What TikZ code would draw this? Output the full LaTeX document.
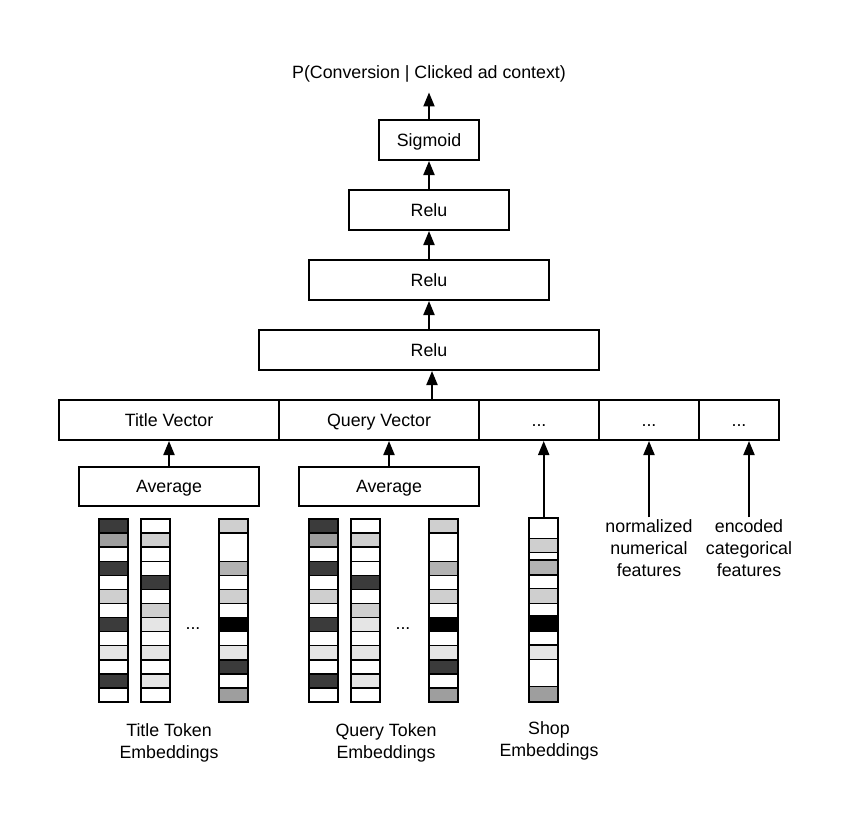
\documentclass[tikz,border=0pt]{standalone}
\usepackage{fontspec}
\setmainfont{Liberation Sans}
\usetikzlibrary{arrows.meta}
\colorlet{cD}{black!77}
\colorlet{cM}{black!38}
\colorlet{cG}{black!30}
\colorlet{cL}{black!19}
\colorlet{cV}{black!10}
\colorlet{cW}{white}
\colorlet{cK}{black}
\tikzset{
  lbl/.style={font=\fontsize{17.8}{22}\selectfont, align=center, inner sep=2pt},
  box/.style={draw, line width=2pt, lbl, inner sep=0pt, text height=12.8pt, text depth=0pt, minimum height=40pt},
  arr/.style={line width=2pt, -{Triangle[width=11pt,length=14pt]}},
  cellline/.style={line width=1.5pt},
}
\newcommand{\embcol}[3]{%
  \foreach \h/\c [evaluate=\h as \yb using \ya+\h, remember=\yb as \ya (initially #2)] in #3 {
    \fill[\c] (#1,\ya) rectangle (#1+29,\yb);
    \draw[cellline] (#1,\ya) -- (#1+29,\ya);
  }
  \draw[line width=2pt] (#1,#2) rectangle (#1+29,702);
}
\def\u{14.08}
\def\colA{\u/cD,\u/cM,\u/cW,\u/cD,\u/cW,\u/cL,\u/cW,\u/cD,\u/cW,\u/cV,\u/cW,\u/cD,\u/cW}
\def\colB{\u/cW,\u/cL,\u/cW,\u/cW,\u/cD,\u/cW,\u/cL,\u/cV,\u/cW,\u/cV,\u/cW,\u/cV,\u/cW}
\def\colC{\u/cL,28.16/cW,\u/cG,\u/cW,\u/cL,\u/cW,\u/cK,\u/cW,\u/cV,\u/cD,\u/cW,\u/cM}
\def\colS{20/cW,14.4/cL,7.3/cW,15/cG,13.3/cW,15/cL,12.7/cW,15.7/cK,13.3/cW,14.3/cV,27.4/cW,15/cM}
\begin{document}
\begin{tikzpicture}[x=1pt,y=-1pt]
\useasboundingbox (0,0) rectangle (858,820);
\fill[white] (0,0) rectangle (858,820);

% top stack
\node[lbl, anchor=base] (out) at (429,78.5) {P(Conversion | Clicked ad context)};
\node[box, minimum width=100pt] (sig) at (429,140) {Sigmoid};
\node[box, minimum width=160pt] (r1) at (429,210) {Relu};
\node[box, minimum width=240pt] (r2) at (429,280) {Relu};
\node[box, minimum width=340pt] (r3) at (429,350) {Relu};

% vector row
\node[box, minimum width=220pt] (tv) at (169,420) {Title Vector};
\node[box, minimum width=200pt] (qv) at (379,420) {Query Vector};
\node[box, minimum width=120pt] (d1) at (539,420) {...};
\node[box, minimum width=100pt] (d2) at (649,420) {...};
\node[box, minimum width=80pt] (d3) at (739,420) {...};

% averages
\node[box, minimum width=180pt, minimum height=39pt] (a1) at (169,486.5) {Average};
\node[box, minimum width=180pt, minimum height=39pt] (a2) at (389,486.5) {Average};

% embedding columns
\embcol{98.5}{519}{\colA}
\embcol{140.5}{519}{\colB}
\embcol{218.5}{519}{\colC}
\node[lbl, anchor=base] (dt) at (193,629.5) {...};
\embcol{308.5}{519}{\colA}
\embcol{350.5}{519}{\colB}
\embcol{428.5}{519}{\colC}
\node[lbl, anchor=base] (dq) at (403,629.5) {...};
\embcol{529}{518.3}{\colS}
\node[inner sep=0pt, minimum width=29pt, minimum height=184pt, anchor=north west] (shop) at (529,518.3) {};

% feature labels
\node[lbl] (num) at (649,548) {normalized\\numerical\\features};
\node[lbl] (cat) at (749,548) {encoded\\categorical\\features};

% bottom labels
\node[lbl] (tl) at (169,743) {Title Token\\Embeddings};
\node[lbl] (ql) at (386,743) {Query Token\\Embeddings};
\node[lbl] (sl) at (549,741) {Shop\\Embeddings};

% arrows
\draw[arr] (sig.north) -- ([yshift=-8pt]out.south);
\draw[arr] (r1.north) -- (sig.south);
\draw[arr] (r2.north) -- (r1.south);
\draw[arr] (r3.north) -- (r2.south);
\coordinate (rin) at (432,400);
\draw[arr] (rin) -- (rin |- r3.south);
\draw[arr] (a1.north) -- (tv.south);
\draw[arr] (a2.north) -- (a2.north |- qv.south);
\draw[arr] (shop.north) -- (shop.north |- d1.south);
\draw[arr] (num.north) -- (num.north |- d2.south);
\draw[arr] (cat.north) -- (cat.north |- d3.south);
\end{tikzpicture}
\end{document}
